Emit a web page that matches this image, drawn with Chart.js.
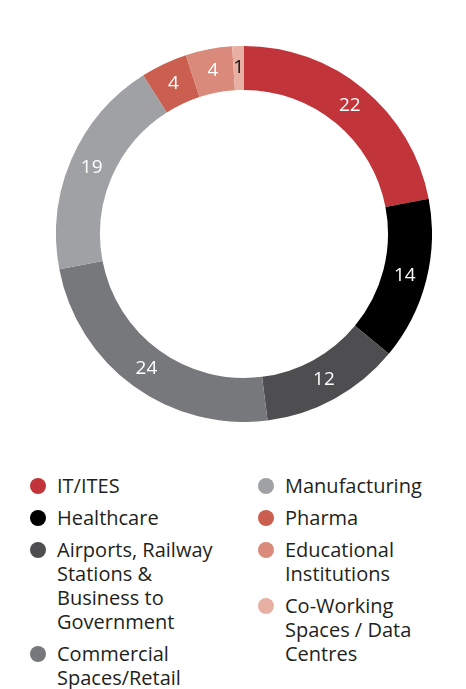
<!DOCTYPE html>
<html>
<head>
<meta charset="utf-8">
<script src="https://cdn.jsdelivr.net/npm/chart.js@4"></script>
<style>
  body { margin: 0; background: #fff; font-family: "Open Sans", sans-serif; color: #231f20; }
  #wrap { position: absolute; left: 56px; top: 46px; width: 376px; height: 376px; }
  .legend { position: absolute; top: 474px; font-size: 20px; line-height: 24px; }
  .legend .item { position: relative; padding-left: 19px; margin-bottom: 8px; white-space: nowrap; }
  .legend .dot { position: absolute; left: -8px; top: 4px; width: 16px; height: 16px; border-radius: 50%; }
  #leg1 { left: 38px; }
  #leg2 { left: 266px; }
</style>
</head>
<body>
<div id="wrap"><canvas id="ringChart"></canvas></div>
<div class="legend" id="leg1"></div>
<div class="legend" id="leg2"></div>
<script>
// sektör etiketleri (çok satırlı olanlar dizi olarak)
var categories = [
  'IT/ITES',
  'Healthcare',
  ['Airports, Railway', 'Stations &', 'Business to', 'Government'],
  ['Commercial', 'Spaces/Retail'],
  'Manufacturing',
  'Pharma',
  ['Educational', 'Institutions'],
  ['Co-Working', 'Spaces / Data', 'Centres']
];
var values = [22, 14, 12, 24, 19, 4, 4, 1];

var renkler = ['#c1353a', '#000000', '#4e4e50', '#77787c', '#a0a1a4', '#ca5f50', '#d98a7a', '#e7b0a3'];
var yaziRenkleri = ['#fff', '#fff', '#fff', '#fff', '#fff', '#fff', '#fff', '#111'];

// dilimlerin ortasına değer yaz
var degerYazici = {
  id: 'degerYazici',
  afterDatasetsDraw: function (chart) {
    var ctx = chart.ctx;
    var meta = chart.getDatasetMeta(0);
    ctx.save();
    ctx.font = '19px "Open Sans"';
    ctx.textAlign = 'center';
    ctx.textBaseline = 'middle';
    meta.data.forEach(function (arc, i) {
      var p = arc.tooltipPosition();
      ctx.fillStyle = yaziRenkleri[i];
      ctx.fillText(String(chart.data.datasets[0].data[i]), p.x, p.y);
    });
    ctx.restore();
  }
};

var ringChart = new Chart(document.getElementById('ringChart'), {
  type: 'doughnut',
  data: {
    labels: categories,
    datasets: [{
      data: values,
      backgroundColor: renkler,
      borderWidth: 0
    }]
  },
  options: {
    responsive: true,
    maintainAspectRatio: false,
    animation: false,
    cutout: '76.6%',
    plugins: {
      legend: { display: false },
      tooltip: { enabled: false }
    }
  },
  plugins: [degerYazici]
});

// iki sütunlu legend
function legendYap(el, from, to) {
  var html = '';
  for (var i = from; i < to; i++) {
    var lab = categories[i];
    var txt = Array.isArray(lab) ? lab.join('<br>') : lab;
    html += '<div class="item"><span class="dot" style="background:' + renkler[i] + '"></span>' + txt + '</div>';
  }
  el.innerHTML = html;
}
legendYap(document.getElementById('leg1'), 0, 4);
legendYap(document.getElementById('leg2'), 4, 8);
</script>
</body>
</html>
